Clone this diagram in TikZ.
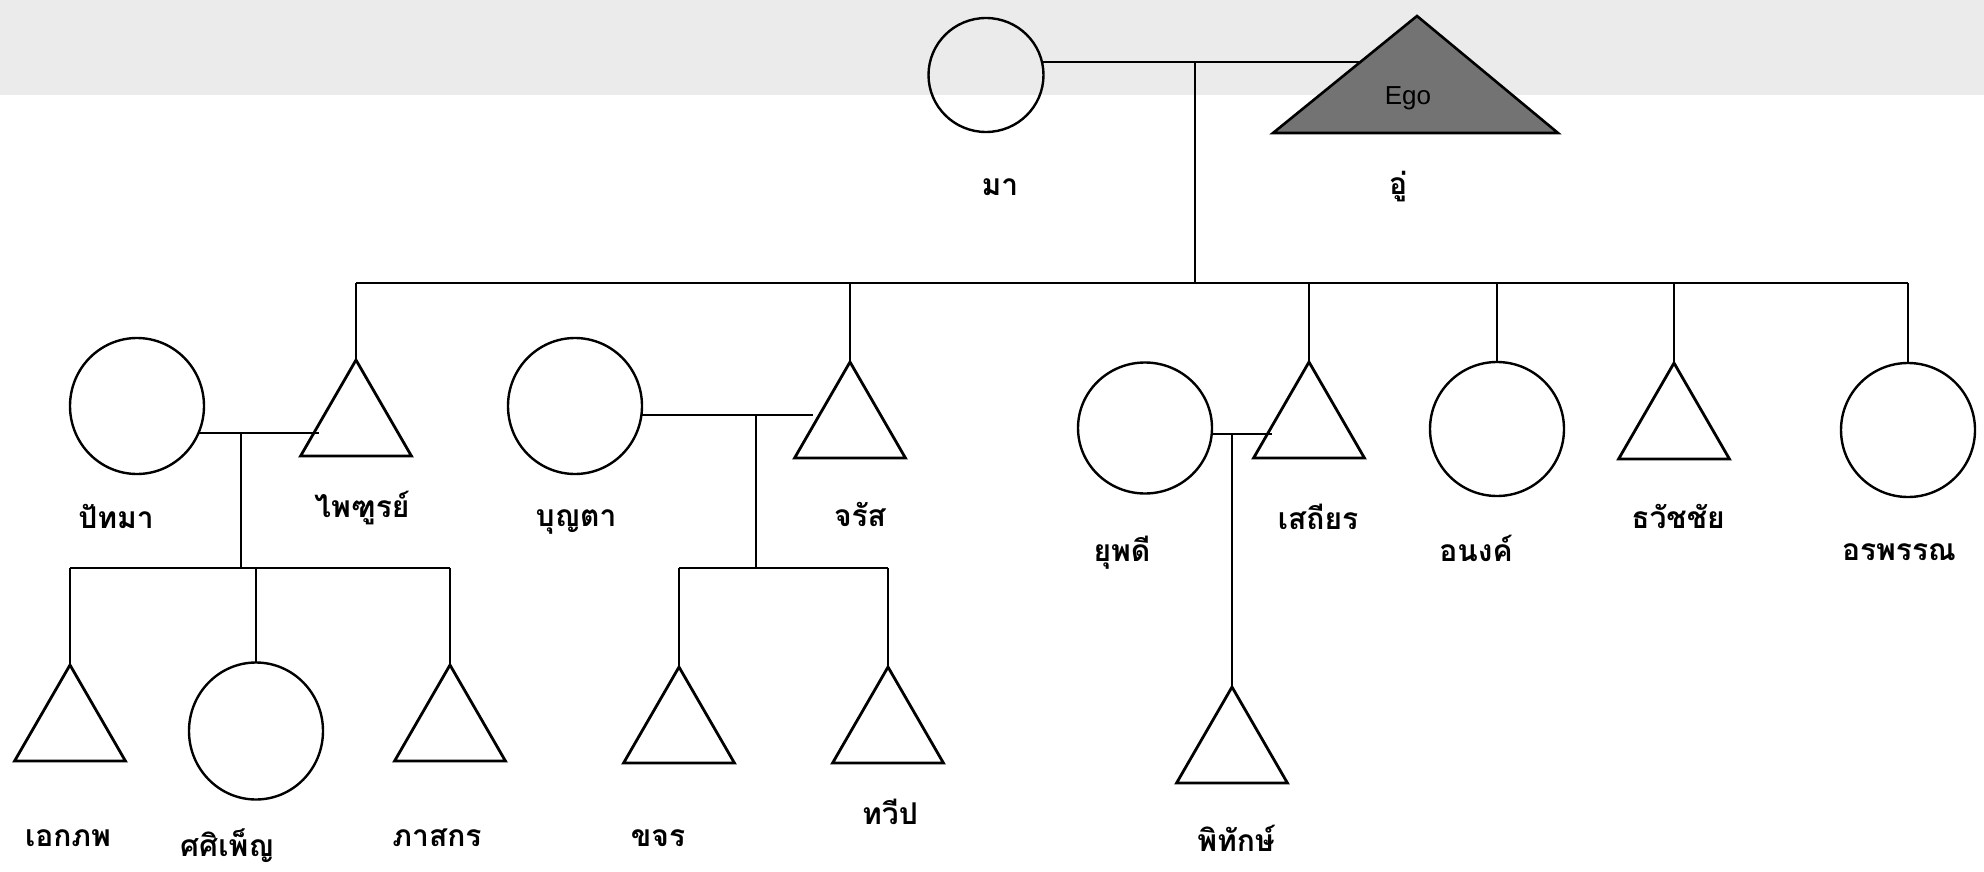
\documentclass[tikz,border=0pt]{standalone}
\usepackage{fontspec}
\newfontfamily\thai[Script=Thai]{Loma}
\newfontfamily\egofont{Liberation Sans}
\usetikzlibrary{shapes.geometric,calc}
\begin{document}
\begin{tikzpicture}[x=1pt,y=-1pt,
  fem/.style={ellipse,draw,line width=2.4pt,minimum width=134pt,minimum height=136pt,inner sep=0pt,outer sep=0pt},
  mal/.style={regular polygon,regular polygon sides=3,draw,line width=2.8pt,minimum size=128pt,inner sep=0pt,outer sep=0pt},
  con/.style={line width=1.8pt},
  lbl/.style={font=\thai\fontsize{30}{36}\selectfont\bfseries,inner sep=0pt},
]
\useasboundingbox (0,0) rectangle (1984,872);
\fill[black!8] (0,0) rectangle (1984,95);

% generation 1
\node[fem,minimum width=115pt,minimum height=114pt] (ma) at (986,75) {};
\coordinate (egoA) at (1417,16);
\coordinate (egoL) at (1273,133);
\coordinate (egoR) at (1558,133);
\filldraw[fill=black!55,line width=2.6pt] (egoA) -- (egoL) -- (egoR) -- cycle;
\node[font=\egofont\fontsize{26}{30}\selectfont,inner sep=0pt] (ego) at (1408,98) {Ego};
\coordinate (egoS) at ($(egoL)!0.607!(egoA)$);

% generation 2
\node[mal] (pai) at (356,424) {};
\node[mal] (jar) at (850,426) {};
\node[mal] (sat) at (1309,426) {};
\node[mal] (tha) at (1674,427) {};
\node[fem] (pat) at (137,406) {};
\node[fem] (boo) at (575,406) {};
\node[fem,minimum height=131pt] (yup) at (1145,428) {};
\node[fem,minimum height=134pt] (ano) at (1497,429) {};
\node[fem,minimum height=134pt] (ora) at (1908,430) {};

% generation 3
\node[mal] (ekk) at (70,729) {};
\node[mal] (pha) at (450,729) {};
\node[fem,minimum height=137pt] (sas) at (256,731) {};
\node[mal] (kha) at (679,731) {};
\node[mal] (twp) at (888,731) {};
\node[mal] (pit) at (1232,751) {};

% junction coordinates
\coordinate (m0) at (1195,62);
\coordinate (bus) at (0,283);
\coordinate (j1) at (241,568);
\coordinate (j2) at (756,568);
\coordinate (j3) at (1232,434);

% connectors
\draw[con] (ma.13) -- (ma.13 -| egoS);
\draw[con] (m0 |- ma.13) -- (m0 |- bus);
\draw[con] (pai.north |- bus) -- (ora.north |- bus);
\foreach \n in {pai,jar,sat,ano,tha,ora}{\draw[con] (\n.north |- bus) -- (\n.north);}

\draw[con] (pat.-24) -- (pat.-24 -| pai.west);
\draw[con] (j1 |- pat.-24) -- (j1);
\draw[con] (ekk.north |- j1) -- (pha.north |- j1);
\foreach \n in {ekk,sas,pha}{\draw[con] (\n.north |- j1) -- (\n.north);}

\draw[con] (boo.-8) -- (boo.-8 -| jar.west);
\draw[con] (j2 |- boo.-8) -- (j2);
\draw[con] (kha.north |- j2) -- (twp.north |- j2);
\foreach \n in {kha,twp}{\draw[con] (\n.north |- j2) -- (\n.north);}

\draw[con] (yup.-5) -- (yup.-5 -| sat.west);
\draw[con] (j3 |- yup.-5) -- (pit.north);

% labels
\node[lbl] (lma) at (1000,187) {มา};
\node[lbl] (lego) at (1398,187) {อู่};
\node[lbl] (lpat) at (116,516) {ปัทมา};
\node[lbl] (lpai) at (362,508) {ไพฑูรย์};
\node[lbl] (lboo) at (576,522) {บุญตา};
\node[lbl] (ljar) at (860,514) {จรัส};
\node[lbl] (lyup) at (1122,553) {ยุพดี};
\node[lbl] (lsat) at (1318,517) {เสถียร};
\node[lbl] (lano) at (1476,548) {อนงค์};
\node[lbl] (ltha) at (1678,516) {ธวัชชัย};
\node[lbl] (lora) at (1899,552) {อรพรรณ};
\node[lbl] (lekk) at (68,838) {เอกภพ};
\node[lbl] (lsas) at (227,846) {ศศิเพ็ญ};
\node[lbl] (lpha) at (437,838) {ภาสกร};
\node[lbl] (lkha) at (658,838) {ขจร};
\node[lbl] (ltwp) at (890,812) {ทวีป};
\node[lbl] (lpit) at (1236,838) {พิทักษ์};
\end{tikzpicture}
\end{document}
